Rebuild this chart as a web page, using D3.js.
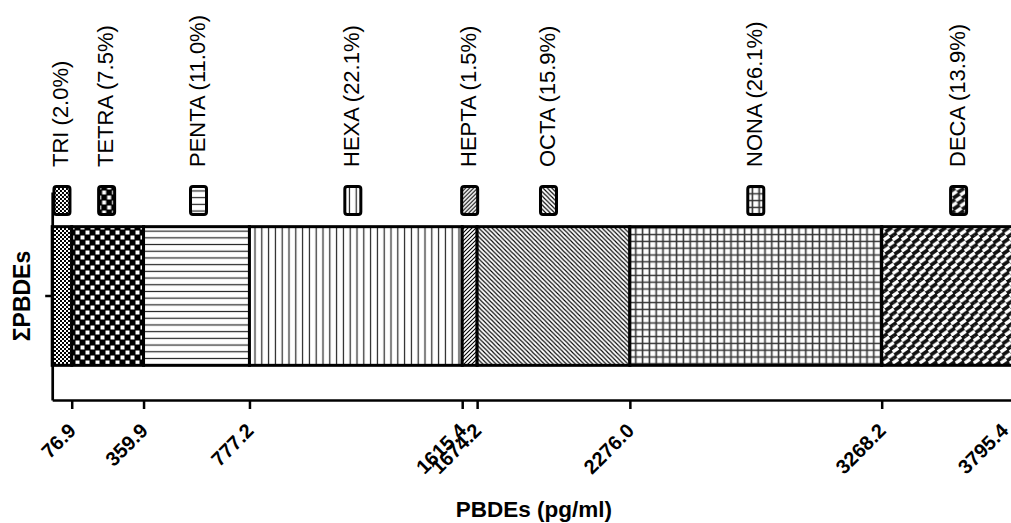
<!DOCTYPE html>
<html><head><meta charset="utf-8">
<script src="https://cdn.jsdelivr.net/npm/d3@7"></script>
<style>
body{margin:0;background:#fff}
svg{display:block}
text{font-family:"Liberation Sans",Arial,Helvetica,sans-serif;fill:#000}
</style>
</head><body>
<svg id="chart" width="1011" height="523"></svg>
<script>
// ---- data ----
const categories = ["TRI","TETRA","PENTA","HEXA","HEPTA","OCTA","NONA","DECA"];
const percentages = ["2.0%","7.5%","11.0%","22.1%","1.5%","15.9%","26.1%","13.9%"];
const cumulativeValues = [76.9,359.9,777.2,1615.4,1674.2,2276.0,3268.2,3795.4];
const tickLabels = ["76.9","359.9","777.2","1615.4","1674.2","2276.0","3268.2","3795.4"];
const seriesNames = ["ΣPBDEs"];
const xTitle = "PBDEs (pg/ml)";

// ---- layout ----
const W = 1011, H = 523;
const plotLeft = 52.2, plotRight = 1015.5, plotTop = 192, plotBottom = 400;
const legendNudge = [0,-1,2,-3,0,-5,0,10];

const svg = d3.select("#chart");
svg.append("rect").attr("width",W).attr("height",H).attr("fill","#fff");

const x = d3.scaleLinear().domain([0, cumulativeValues[cumulativeValues.length-1]]).range([plotLeft, plotRight]);
const y = d3.scaleBand().domain(seriesNames).range([plotTop, plotBottom]).paddingInner(0.2).paddingOuter(0.2);

const segments = categories.map((c,i)=>({
  name:c, pct:percentages[i],
  start: i===0 ? 0 : cumulativeValues[i-1],
  end: cumulativeValues[i], i
}));

// ---- patterns ----
const defs = svg.append("defs");
function pat(id,w,h){
  return defs.append("pattern").attr("id",id).attr("patternUnits","userSpaceOnUse")
    .attr("width",w).attr("height",h);
}
// TRI: fine checker
let p = pat("p0",4,4);
p.append("rect").attr("width",4).attr("height",4).attr("fill","#fff");
p.append("rect").attr("x",0).attr("y",0).attr("width",2).attr("height",2).attr("fill","#000");
p.append("rect").attr("x",2).attr("y",2).attr("width",2).attr("height",2).attr("fill","#000");
// TETRA: coarse checker
p = pat("p1",10,10);
p.append("rect").attr("width",10).attr("height",10).attr("fill","#000");
p.append("rect").attr("x",5.5).attr("y",0.5).attr("width",4).attr("height",4).attr("fill","#fff");
p.append("rect").attr("x",0.5).attr("y",5.5).attr("width",4).attr("height",4).attr("fill","#fff");
// PENTA: horizontal lines
p = pat("p2",7,6.7);
p.append("rect").attr("width",7).attr("height",6.7).attr("fill","#fff");
p.append("path").attr("d","M0,3.35H7").attr("stroke","#222").attr("stroke-width",1.2);
// HEXA: vertical lines
p = pat("p3",6.8,7);
p.append("rect").attr("width",6.8).attr("height",7).attr("fill","#fff");
p.append("path").attr("d","M3.4,0V7").attr("stroke","#222").attr("stroke-width",1.2);
// HEPTA: "/" dense
p = pat("p4",4,4);
p.append("rect").attr("width",4).attr("height",4).attr("fill","#fff");
p.append("path").attr("d","M-1,1L1,-1M0,4L4,0M3,5L5,3").attr("stroke","#000").attr("stroke-width",1.1);
// OCTA: "\" dense
p = pat("p5",4.4,4.4);
p.append("rect").attr("width",4.4).attr("height",4.4).attr("fill","#fff");
p.append("path").attr("d","M-1,3.4L1,5.4M0,0L4.4,4.4M3.4,-1L5.4,1").attr("stroke","#000").attr("stroke-width",1.1);
// NONA: grid
p = pat("p6",6.8,6.8);
p.append("rect").attr("width",6.8).attr("height",6.8).attr("fill","#fff");
p.append("path").attr("d","M0,3.4H6.8M3.4,0V6.8").attr("stroke","#333").attr("stroke-width",1.6);
// DECA: staggered slanted bricks
p = pat("p7",9,11.2);
p.append("rect").attr("width",9).attr("height",11.2).attr("fill","#111");
[[4.5,2.8],[0,8.4],[9,8.4],[4.5,14],[4.5,-2.8],[0,-2.8],[9,-2.8],[0,14],[9,14]].forEach(([cx,cy],k)=>{
  if ((k>=5) ) return;
  p.append("path").attr("d",`M${cx-2.75},${cy+1.85}L${cx+2.75},${cy-1.85}`)
   .attr("stroke","#fff").attr("stroke-width",3.5).attr("stroke-linecap","butt");
});

// ---- bars ----
svg.append("g").selectAll("rect").data(segments).join("rect")
  .attr("x",d=>x(d.start)).attr("width",d=>x(d.end)-x(d.start))
  .attr("y",y(seriesNames[0])).attr("height",y.bandwidth())
  .attr("fill",d=>`url(#p${d.i})`).attr("stroke","#000").attr("stroke-width",3);

// ---- axes ----
const xAxis = svg.append("g").attr("transform",`translate(0,${plotBottom})`)
  .call(d3.axisBottom(x).tickValues(cumulativeValues).tickFormat((d,i)=>tickLabels[i]).tickSize(9).tickSizeOuter(0));
xAxis.select(".domain").attr("stroke","#000").attr("stroke-width",2.7);
xAxis.selectAll(".tick line").attr("stroke","#000").attr("stroke-width",2.5);
xAxis.selectAll(".tick text").attr("y",null).attr("dy",null).attr("x",null)
  .attr("transform",d=>{
    const dx = Math.min(5, (W - 2) - x(d));
    return `translate(${dx},32) rotate(-45)`;
  }).attr("text-anchor","end")
  .style("font-size","20px").style("font-weight","bold")
  .style("font-family",'"Liberation Sans",Arial,sans-serif').attr("fill","#000");

const yAxis = svg.append("g").attr("transform",`translate(${plotLeft},0)`)
  .call(d3.axisLeft(y).tickSize(7).tickSizeOuter(0).tickFormat(""));
yAxis.select(".domain").attr("stroke","#000").attr("stroke-width",2.7);
yAxis.selectAll(".tick line").attr("stroke","#000").attr("stroke-width",2.5);

// ---- legend ----
const leg = svg.append("g").selectAll("g").data(segments).join("g")
  .attr("transform",d=>`translate(${x((d.start+d.end)/2)+legendNudge[d.i]},0)`);
leg.append("rect").attr("x",-8).attr("y",186.5).attr("width",16).attr("height",28).attr("rx",2.5)
  .attr("fill",d=>`url(#p${d.i})`).attr("stroke","#000").attr("stroke-width",3);
leg.append("text").attr("transform","translate(6.5,167) rotate(-90)").attr("text-anchor","start")
  .style("font-size","22px").text(d=>`${d.name} (${d.pct})`);

// ---- titles ----
svg.append("text").attr("transform",`translate(29.5,${y(seriesNames[0])+y.bandwidth()/2}) rotate(-90)`)
  .attr("text-anchor","middle").style("font-size","23px").style("font-weight","bold").text(seriesNames[0]);
svg.append("text").attr("x",(plotLeft+plotRight)/2).attr("y",517).attr("text-anchor","middle")
  .style("font-size","22.5px").style("font-weight","bold").text(xTitle);
</script>
</body></html>
